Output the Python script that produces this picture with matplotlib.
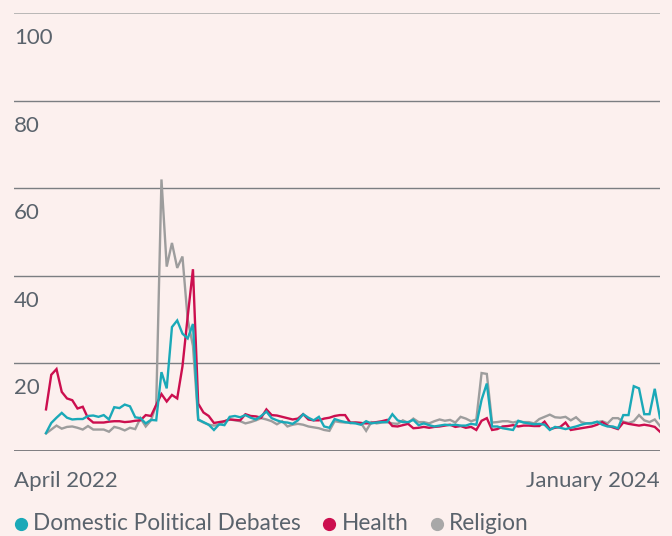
import matplotlib
matplotlib.use("Agg")
import matplotlib.pyplot as plt
import matplotlib.transforms as mtransforms
from matplotlib.lines import Line2D

# weekly share of posts per topic, April 2022 .. January 2024
health = [
    9.5, 17.4, 18.7, 13.5, 12.0, 11.6, 9.7, 10.1, 7.5, 6.5,
    6.5, 6.5, 6.7, 6.8, 6.8, 6.6, 6.7, 6.9, 7.0, 8.2,
    8.0, 10.5, 13.0, 11.3, 12.8, 12.0, 19.3, 30.7, 41.5, 10.8,
    8.8, 8.0, 6.4, 6.6, 6.8, 7.2, 7.1, 7.0, 8.4, 8.0,
    7.9, 7.6, 9.5, 8.2, 8.1, 7.8, 7.5, 7.2, 7.4, 8.4,
    7.2, 7.0, 7.0, 7.4, 7.6, 8.0, 8.2, 8.2, 6.4, 6.5,
    6.4, 6.3, 6.4, 6.6, 6.8, 7.1, 5.7, 5.6, 5.9, 6.2,
    5.2, 5.3, 5.5, 5.3, 5.5, 5.6, 5.8, 6.0, 5.5, 5.7,
    5.3, 5.5, 4.8, 6.9, 7.5, 4.8, 5.0, 5.6, 5.7, 5.9,
    5.6, 5.8, 5.8, 5.7, 5.7, 6.7, 5.0, 5.3, 5.5, 6.5,
    4.8, 5.0, 5.2, 5.4, 5.6, 6.0, 6.6, 5.8, 5.4, 5.0,
    6.5, 6.2, 6.0, 5.8, 6.0, 5.8, 5.5, 4.4,
]
domestic = [
    4.1, 6.4, 7.6, 8.7, 7.6, 7.2, 7.3, 7.3, 8.0, 8.1,
    7.8, 8.2, 7.2, 10.0, 9.8, 10.6, 10.2, 7.7, 7.5, 6.3,
    7.1, 7.0, 18.0, 14.3, 28.3, 29.8, 26.8, 25.7, 29.0, 7.2,
    6.6, 6.0, 4.8, 6.1, 5.9, 7.8, 8.0, 7.7, 8.2, 7.6,
    7.2, 8.0, 9.0, 7.5, 7.0, 6.6, 6.5, 6.2, 7.0, 8.4,
    7.6, 7.0, 7.8, 5.6, 5.3, 7.3, 6.9, 6.6, 6.4, 6.3,
    6.0, 6.8, 6.3, 6.5, 6.6, 6.6, 8.4, 7.0, 6.6, 6.6,
    7.1, 5.9, 6.3, 5.9, 5.6, 5.8, 6.0, 5.9, 6.0, 5.8,
    5.8, 6.2, 6.0, 11.7, 15.4, 5.6, 5.6, 5.2, 5.0, 4.8,
    6.9, 6.5, 6.3, 6.1, 6.2, 6.0, 4.8, 5.5, 5.3, 5.0,
    5.3, 5.6, 6.0, 6.3, 6.3, 6.7, 6.0, 5.6, 5.6, 5.2,
    8.2, 8.2, 14.8, 14.3, 8.4, 8.4, 14.2, 7.5,
]
religion = [
    4.0, 4.9, 5.8, 5.1, 5.5, 5.6, 5.3, 4.9, 5.7, 4.9,
    4.9, 4.9, 4.4, 5.5, 5.2, 4.7, 5.3, 5.0, 7.5, 5.6,
    7.0, 10.5, 62.0, 42.1, 47.5, 41.8, 44.4, 30.0, 24.0, 7.1,
    6.5, 6.0, 5.8, 6.0, 6.8, 7.2, 7.0, 6.8, 6.3, 6.6,
    7.0, 7.5, 7.2, 6.8, 6.1, 6.8, 5.6, 6.0, 6.2, 6.0,
    5.6, 5.4, 5.2, 4.8, 4.6, 6.8, 6.6, 6.5, 6.6, 6.5,
    6.4, 4.6, 6.6, 6.3, 6.5, 6.6, 6.3, 6.2, 7.0, 6.4,
    7.4, 6.6, 6.6, 6.3, 6.8, 7.2, 6.9, 7.1, 6.5, 7.8,
    7.4, 6.8, 7.2, 17.8, 17.6, 6.5, 6.6, 6.8, 6.8, 6.5,
    6.8, 6.6, 6.6, 6.3, 7.3, 7.8, 8.3, 7.7, 7.6, 7.8,
    7.0, 7.7, 6.6, 6.3, 6.4, 6.6, 6.8, 6.3, 7.5, 7.5,
    6.7, 6.4, 6.8, 8.2, 7.0, 6.6, 7.2, 5.7,
]
y_ticks = [0, 20, 40, 60, 80, 100]
x_labels = ["April 2022", "January 2024"]
series_names = ["Domestic Political Debates", "Health", "Religion"]

BG = "#fcf0ee"
TEXT = "#5a636c"
TEAL = "#1aa9b8"
RED = "#cc0f4f"
GREY = "#9d9d9d"

plt.rcParams["font.family"] = ["Lato", "DejaVu Sans"]

fig = plt.figure(figsize=(6.72, 5.36), dpi=100, facecolor=BG)
ax = fig.add_axes([14 / 672, 85 / 536, 646 / 672, 438 / 536], facecolor=BG)

weeks = list(range(len(health)))
ax.set_xlim(-6.1, len(health) - 1)
ax.set_ylim(0, 100)

# gridlines, baseline a bit darker
for v in y_ticks:
    if v == 0:
        ax.axhline(v, color="#5c5f63", lw=1.1, zorder=1)
    elif v == 100:
        ax.axhline(v, color="#a7a7a7", lw=1.1, zorder=1)
    else:
        ax.axhline(v, color="#7b7e82", lw=1.0, zorder=1)

ax.plot(weeks, religion, color=GREY, lw=1.7, zorder=3, solid_joinstyle="miter")
ax.plot(weeks, health, color=RED, lw=1.7, zorder=4, solid_joinstyle="miter")
ax.plot(weeks, domestic, color=TEAL, lw=1.7, zorder=5, solid_joinstyle="miter")

for s in ax.spines.values():
    s.set_visible(False)
ax.set_xticks([])
ax.set_yticks([])

# y labels sit just under their gridline
trans = mtransforms.blended_transform_factory(ax.transAxes, ax.transData)
trans = mtransforms.offset_copy(trans, fig=fig, y=-31, units="dots")
for v in y_ticks[1:]:
    ax.text(0, v, str(v), transform=trans, ha="left", va="baseline",
            fontsize=16, color=TEXT)

# x end labels
fig.text(14 / 672, 1 - 487 / 536, x_labels[0], ha="left", va="baseline",
         fontsize=16, color=TEXT)
fig.text(660 / 672, 1 - 487 / 536, x_labels[1], ha="right", va="baseline",
         fontsize=16, color=TEXT)

# legend at the bottom (nudged up a little so descenders stay inside)
legend_items = [(21, 33, TEAL), (329, 342, RED), (437, 449, "#a8a8a8")]
for (cx, tx, col), name in zip(legend_items, series_names):
    fig.add_artist(Line2D([cx / 672], [1 - 524 / 536], marker="o", markersize=8.5,
                          color=col, linestyle="none", transform=fig.transFigure))
    fig.text(tx / 672, 1 - 530 / 536, name, ha="left", va="baseline",
             fontsize=16.3, color=TEXT)

fig.savefig("out.png", dpi=100, facecolor=BG)
